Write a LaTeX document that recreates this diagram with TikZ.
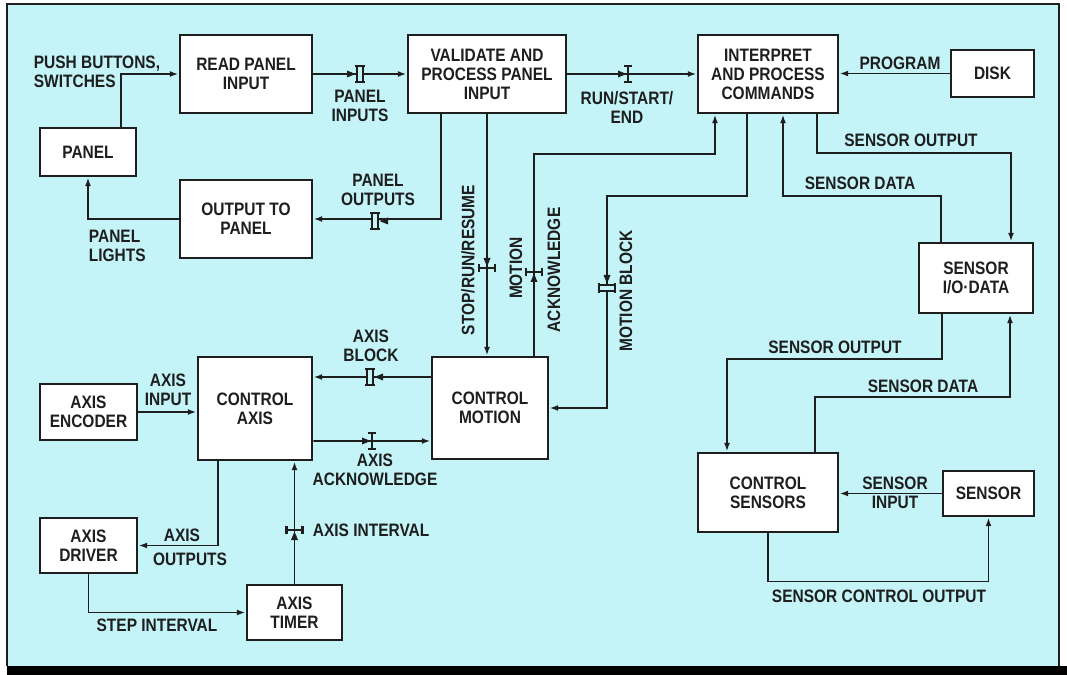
\documentclass[tikz,border=0pt]{standalone}
\usepackage{fontspec}
\setmainfont{Liberation Sans}[FakeStretch=0.86]
\usetikzlibrary{arrows.meta,calc}
\definecolor{bgcyan}{RGB}{196,244,247}
\definecolor{ink}{RGB}{30,30,30}
\tikzset{
  pics/sigmark/.style={code={
    \fill (-10,-3.5) -- (-1.5,0) -- (-10,3.5) -- cycle;
    \draw[line width=1.5pt] (0,-8) -- (0,8) (-4,-8) -- (4,-8) (-4,8) -- (4,8);
  }},
  pics/blockmark/.style={code={
    \fill (-13,-3.5) -- (-4.5,0) -- (-13,3.5) -- cycle;
    \filldraw[fill=bgcyan, line width=1.5pt] (-3,-8) rectangle (3,8);
    \draw[line width=1.5pt] (-5,-8) -- (5,-8) (-5,8) -- (5,8);
  }}
}
\begin{document}
\begin{tikzpicture}[x=0.025cm, y=-0.025cm, line width=1.3pt, ink,
    font=\fontsize{12.8}{13.5}\selectfont\bfseries,
    box/.style={draw, line width=2pt, fill=white, align=center, inner sep=0pt},
    lbl/.style={align=center, inner sep=0pt},
    arr/.style={-{Latex[length=2.2mm,width=1.5mm]}}]
    % 背景
    \useasboundingbox (0,0) rectangle (1067,675);
    \fill[bgcyan] (7,4) rectangle (1059,666);
    \draw[line width=1.2pt] (7,666) |- (1059,4) -- (1059,666);
    \fill[black] (7,666) rectangle (1067,675);

    % 面板部分
    \node[box, minimum width=3.3cm, minimum height=1.95cm] (read) at (246,74) {READ PANEL\\INPUT};
    \node[box, minimum width=3.95cm, minimum height=1.95cm] (valid) at (487,74) {VALIDATE AND\\PROCESS PANEL\\INPUT};
    \node[box, minimum width=3.5cm, minimum height=1.95cm] (interp) at (768,74) {INTERPRET\\AND PROCESS\\COMMANDS};
    \node[box, minimum width=2.075cm, minimum height=1.175cm] (disk) at (992.5,73.5) {DISK};
    \node[box, minimum width=2.4cm, minimum height=1.2cm] (panel) at (88,152) {PANEL};
    \node[box, minimum width=3.3cm, minimum height=1.95cm] (output) at (246,219) {OUTPUT TO\\PANEL};

    % 运动与轴
    \node[box, minimum width=2.425cm, minimum height=1.4cm] (encoder) at (88.5,412) {AXIS\\ENCODER};
    \node[box, minimum width=2.85cm, minimum height=2.575cm] (caxis) at (255,408.5) {CONTROL\\AXIS};
    \node[box, minimum width=2.9cm, minimum height=2.55cm] (cmotion) at (490,408) {CONTROL\\MOTION};
    \node[box, minimum width=2.425cm, minimum height=1.375cm] (driver) at (88.5,545.5) {AXIS\\DRIVER};
    \node[box, minimum width=2.375cm, minimum height=1.375cm] (timer) at (294.5,612.5) {AXIS\\TIMER};

    % 传感器
    \node[box, minimum width=2.85cm, minimum height=1.75cm] (sensio) at (976,278) {SENSOR\\I/O·DATA};
    \node[box, minimum width=3.5cm, minimum height=1.975cm] (csens) at (768,492.5) {CONTROL\\SENSORS};
    \node[box, minimum width=2.275cm, minimum height=1.125cm] (sensor) at (988.5,493.5) {SENSOR};

    % 连线
    \draw[arr] ($(panel.north)+(33,0)$) |- (read.west);
    \draw[arr] (read.east) -- (valid.west);
    \draw[arr] (valid.east) -- (interp.west);
    \draw[arr] (disk.west) -- (disk.west -| interp.east);
    \draw[arr] ($(valid.south)+(-46,0)$) |- (output.east);
    \draw[arr] (output.west) -| (panel.south);
    \draw[arr] (valid.south) -- (valid.south |- cmotion.north);
    \draw[arr] ($(cmotion.north)+(44,0)$) |- ($(interp.south)+(-53,40)$) -- ($(interp.south)+(-53,0)$);
    \draw[arr] ($(interp.south)+(-21,0)$) |- (607,196) |- (cmotion.east);
    \draw[arr] ($(sensio.north)+(-35,0)$) |- (783,196) -- ($(interp.south)+(15,0)$);
    \draw[arr] ($(interp.south)+(49,0)$) |- (1011,153) -- ($(sensio.north)+(35,0)$);
    \draw[arr] ($(sensio.south)+(-34,0)$) |- (727,359) -- ($(csens.north)+(-41,0)$);
    \draw[arr] ($(csens.north)+(47,0)$) |- (1010,397) -- ($(sensio.south)+(34,0)$);
    \draw[arr] (sensor.west) -- (sensor.west -| csens.east);
    \draw[arr] (csens.south) -- ++(0,48) -| (sensor.south);
    \draw[arr] (encoder.east) -- (encoder.east -| caxis.west);
    \draw[arr] ($(cmotion.west)+(0,-31)$) -- ($(caxis.east)+(0,-31.5)$);
    \draw[arr] ($(caxis.east)+(0,32.5)$) -- ($(cmotion.west)+(0,33)$);
    \draw[arr] ($(caxis.south)+(-37,0)$) |- (driver.east);
    \draw[arr] (driver.south) |- (timer.west);
    \draw[arr] (timer.north) -- (timer.north |- caxis.south);

    % 数据标记
    \pic at (360,74) {blockmark};
    \pic at (628,74) {sigmark};
    \pic[rotate=180] at (375,221) {blockmark};
    \pic[rotate=-90] at (487,268) {sigmark};
    \pic[rotate=90] at (534,272) {sigmark};
    \pic[rotate=-90] at (607,288) {blockmark};
    \pic[rotate=180] at (370,377) {blockmark};
    \pic at (372,441) {sigmark};
    \pic[rotate=90] at (294.5,530) {sigmark};

    % 标签
    \node[lbl, anchor=west, align=left] (pushlbl) at (33,72) {PUSH BUTTONS,\\SWITCHES};
    \node[lbl] (pinlbl) at (360,106) {PANEL\\INPUTS};
    \node[lbl] (runlbl) at (627,107) {RUN/START/\\END};
    \node[lbl] (proglbl) at (900,63) {PROGRAM};
    \node[lbl] (poutlbl) at (378,190) {PANEL\\OUTPUTS};
    \node[lbl, anchor=west, align=left] (lightlbl) at (88,246) {PANEL\\LIGHTS};
    \node[lbl] (soutlbl) at (911,140) {SENSOR OUTPUT};
    \node[lbl] (sdatlbl) at (860,183) {SENSOR DATA};
    \node[lbl, rotate=90] (stoplbl) at (468,260) {STOP/RUN/RESUME};
    \node[lbl, rotate=90] (motlbl) at (516,268) {MOTION};
    \node[lbl, rotate=90] (acklbl) at (554,270) {ACKNOWLEDGE};
    \node[lbl, rotate=90] (mblklbl) at (626,291) {MOTION BLOCK};
    \node[lbl] (ablklbl) at (371,346) {AXIS\\BLOCK};
    \node[lbl] (ainlbl) at (168,390) {AXIS\\INPUT};
    \node[lbl] (aacklbl) at (375,470) {AXIS\\ACKNOWLEDGE};
    \node[lbl] (aout1) at (182,535) {AXIS};
    \node[lbl] (aout2) at (190,559) {OUTPUTS};
    \node[lbl, anchor=west] (aintlbl) at (312,530) {AXIS INTERVAL};
    \node[lbl] (steplbl) at (157,625) {STEP INTERVAL};
    \node[lbl] (sout2lbl) at (835,347) {SENSOR OUTPUT};
    \node[lbl] (sdat2lbl) at (923,386) {SENSOR DATA};
    \node[lbl] (sinlbl) at (895,493) {SENSOR\\INPUT};
    \node[lbl] (scolbl) at (879,596) {SENSOR CONTROL OUTPUT};
\end{tikzpicture}
\end{document}
